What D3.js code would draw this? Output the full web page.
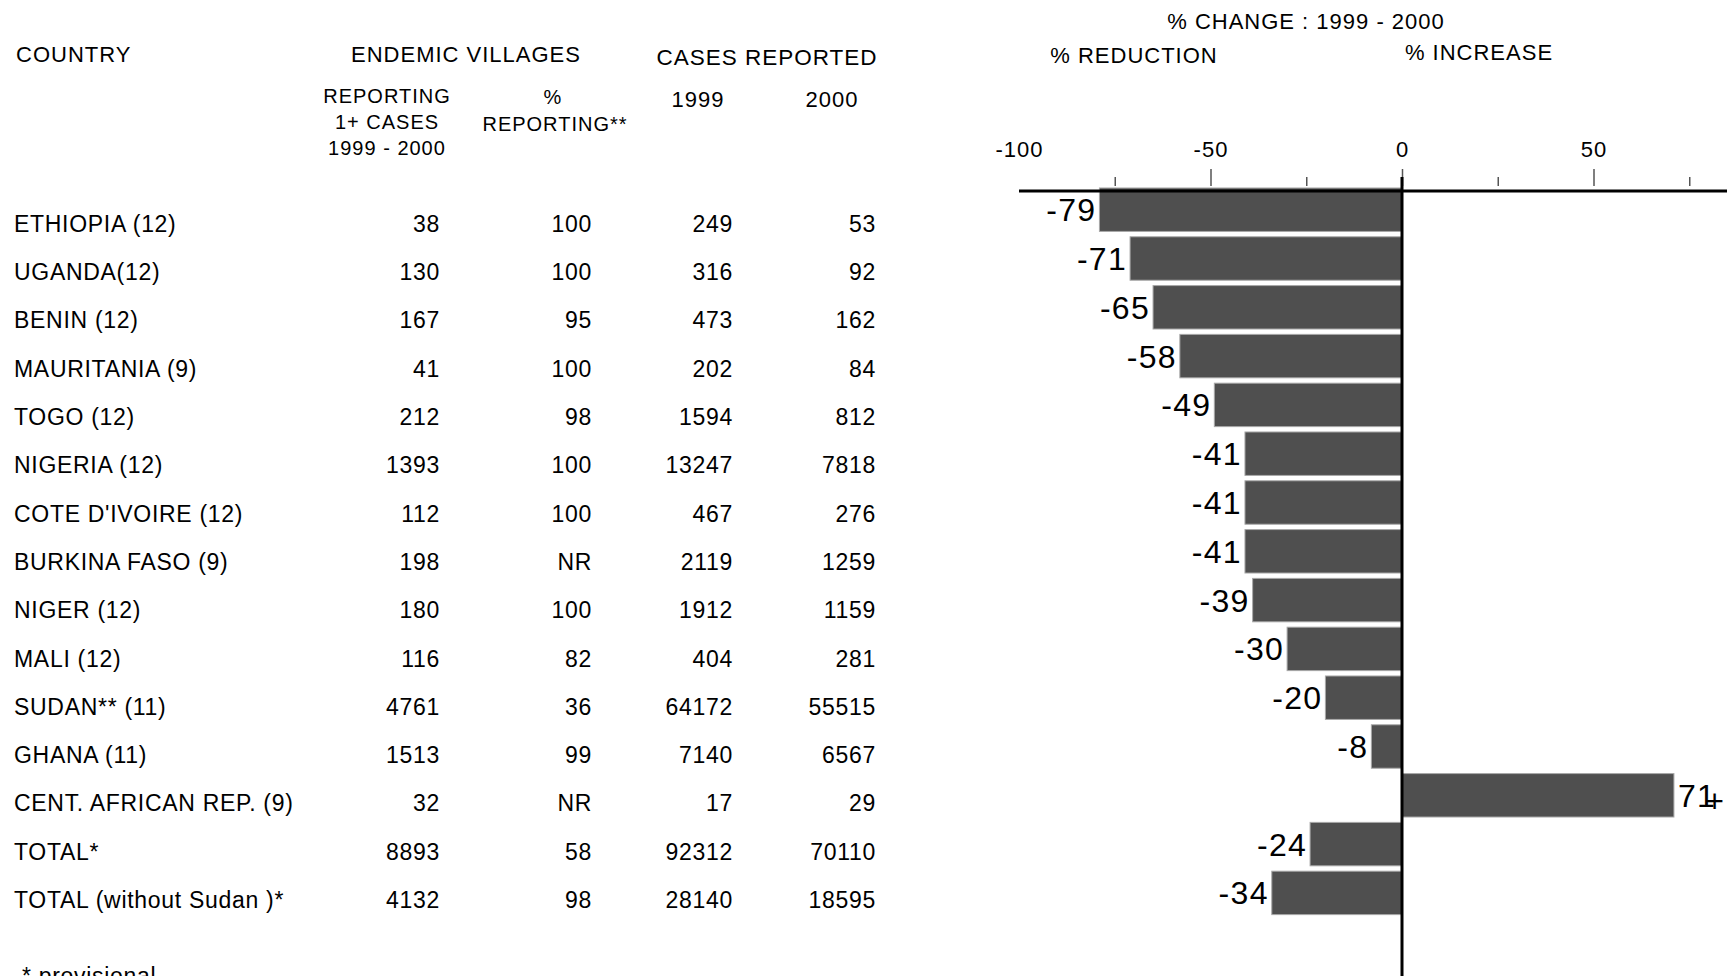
<!DOCTYPE html>
<html>
<head>
<meta charset="utf-8">
<script src="https://cdn.jsdelivr.net/npm/d3@7"></script>
<style>
  body { margin: 0; background: #fff; overflow: hidden; }
  svg text { font-family: "Liberation Sans", Arial, sans-serif; fill: #000; letter-spacing: 1px; }
</style>
</head>
<body>
<div id="chart"></div>
<script>
// table data
const countries = ["ETHIOPIA (12)", "UGANDA(12)", "BENIN (12)", "MAURITANIA (9)", "TOGO (12)",
  "NIGERIA (12)", "COTE D'IVOIRE (12)", "BURKINA FASO (9)", "NIGER (12)", "MALI (12)",
  "SUDAN** (11)", "GHANA (11)", "CENT. AFRICAN REP. (9)", "TOTAL*", "TOTAL (without Sudan )*"];
const villagesReporting = [38, 130, 167, 41, 212, 1393, 112, 198, 180, 116, 4761, 1513, 32, 8893, 4132];
const pctReporting = ["100", "100", "95", "100", "98", "100", "100", "NR", "100", "82", "36", "99", "NR", "58", "98"];
const cases1999 = [249, 316, 473, 202, 1594, 13247, 467, 2119, 1912, 404, 64172, 7140, 17, 92312, 28140];
const cases2000 = [53, 92, 162, 84, 812, 7818, 276, 1259, 1159, 281, 55515, 6567, 29, 70110, 18595];
const pctChange = [-79, -71, -65, -58, -49, -41, -41, -41, -39, -30, -20, -8, 71, -24, -34];

const majorTicks = [-100, -50, 0, 50];
const minorTicks = [-75, -25, 25, 75];

const width = 1727, height = 976;

const svg = d3.select("#chart").append("svg")
  .attr("width", width)
  .attr("height", height);

// ---- table ----
const rowY = d3.scalePoint()
  .domain(d3.range(countries.length))
  .range([223.6, 899.8]);

const heads = svg.append("g");
function head(txt, x, y, size, anchor) {
  heads.append("text")
    .attr("x", x).attr("y", y).attr("dy", "0.36em")
    .attr("text-anchor", anchor || "middle")
    .style("font-size", size + "px")
    .text(txt);
}
head("COUNTRY", 16, 54, 22, "start");
head("ENDEMIC VILLAGES", 466, 54, 22);
head("CASES REPORTED", 767, 57, 22.5);
head("REPORTING", 387, 96, 20);
head("1+ CASES", 387, 122, 20);
head("1999 - 2000", 387, 147.5, 20);
head("%", 553, 97, 20);
head("REPORTING**", 555, 124, 20);
head("1999", 698, 99, 22);
head("2000", 832, 99, 22);

head("% CHANGE : 1999 - 2000", 1306, 21, 22);
head("% REDUCTION", 1134, 55, 22);
head("% INCREASE", 1479, 52, 22);

const cols = [
  {x: 14, anchor: "start", vals: countries},
  {x: 440, anchor: "end", vals: villagesReporting},
  {x: 592, anchor: "end", vals: pctReporting},
  {x: 733, anchor: "end", vals: cases1999},
  {x: 876, anchor: "end", vals: cases2000}
];

const table = svg.append("g");
cols.forEach(c => {
  table.append("g")
    .selectAll("text")
    .data(c.vals)
    .join("text")
      .attr("x", c.x)
      .attr("y", (d, i) => rowY(i))
      .attr("dy", "0.36em")
      .attr("text-anchor", c.anchor)
      .style("font-size", "23px")
      .style("letter-spacing", "0.7px")
      .text(d => d);
});

svg.append("text")
  .attr("x", 22).attr("y", 984)
  .style("font-size", "23px")
  .style("letter-spacing", "0.7px")
  .text("* provisional");

// ---- bar chart ----
const x = d3.scaleLinear()
  .domain([-100, 100])
  .range([1019, 1785]);

const axisY = 191;
const y = d3.scaleBand()
  .domain(d3.range(pctChange.length))
  .range([185.3, 917.3])
  .paddingInner(0.11)
  .paddingOuter(0.055);

// major ticks + labels
const major = svg.append("g")
  .attr("transform", `translate(0, ${axisY - 5})`)
  .call(d3.axisTop(x).tickValues(majorTicks).tickSize(17).tickSizeOuter(0).tickFormat(d => d));
major.select(".domain").remove();
major.selectAll(".tick line")
  .attr("stroke", "#555").attr("stroke-width", 1.5)
  .attr("opacity", d => d === -100 ? 0 : 1);
major.selectAll(".tick text")
  .attr("y", -37)
  .attr("dy", "0.36em")
  .style("font-size", "22px")
  .style("font-family", "'Liberation Sans', Arial, sans-serif")
  .attr("fill", "#000");

// minor ticks
const minor = svg.append("g")
  .attr("transform", `translate(0, ${axisY - 5})`)
  .call(d3.axisTop(x).tickValues(minorTicks).tickSize(9).tickFormat(""));
minor.select(".domain").remove();
minor.selectAll(".tick line").attr("stroke", "#555").attr("stroke-width", 1.5);

// bars
svg.append("g")
  .selectAll("rect")
  .data(pctChange)
  .join("rect")
    .attr("x", d => x(Math.min(0, d)))
    .attr("y", (d, i) => y(i))
    .attr("width", d => Math.abs(x(d) - x(0)))
    .attr("height", y.bandwidth())
    .attr("fill", "#4f4f4f")
    .attr("stroke", "#a8a8a8")
    .attr("stroke-width", 1);

// axis line and zero line
svg.append("line")
  .attr("x1", x(-100)).attr("x2", width)
  .attr("y1", axisY).attr("y2", axisY)
  .attr("stroke", "#000").attr("stroke-width", 3);
svg.append("line")
  .attr("x1", x(0)).attr("x2", x(0))
  .attr("y1", 177).attr("y2", height)
  .attr("stroke", "#000").attr("stroke-width", 3);

// value labels
const lbl = svg.append("g")
  .selectAll("text")
  .data(pctChange)
  .join("text")
    .attr("x", d => d < 0 ? x(d) - 3 : x(d) + 4)
    .attr("y", (d, i) => y(i) + y.bandwidth() / 2)
    .attr("dy", "0.36em")
    .attr("text-anchor", d => d < 0 ? "end" : "start")
    .style("font-size", "32px")
    .style("letter-spacing", "1.3px")
    .text(d => d);
lbl.filter(d => d > 0)
  .append("tspan")
    .attr("dx", -11)
    .attr("dy", "0.16em")
    .text("+");
</script>
</body>
</html>
